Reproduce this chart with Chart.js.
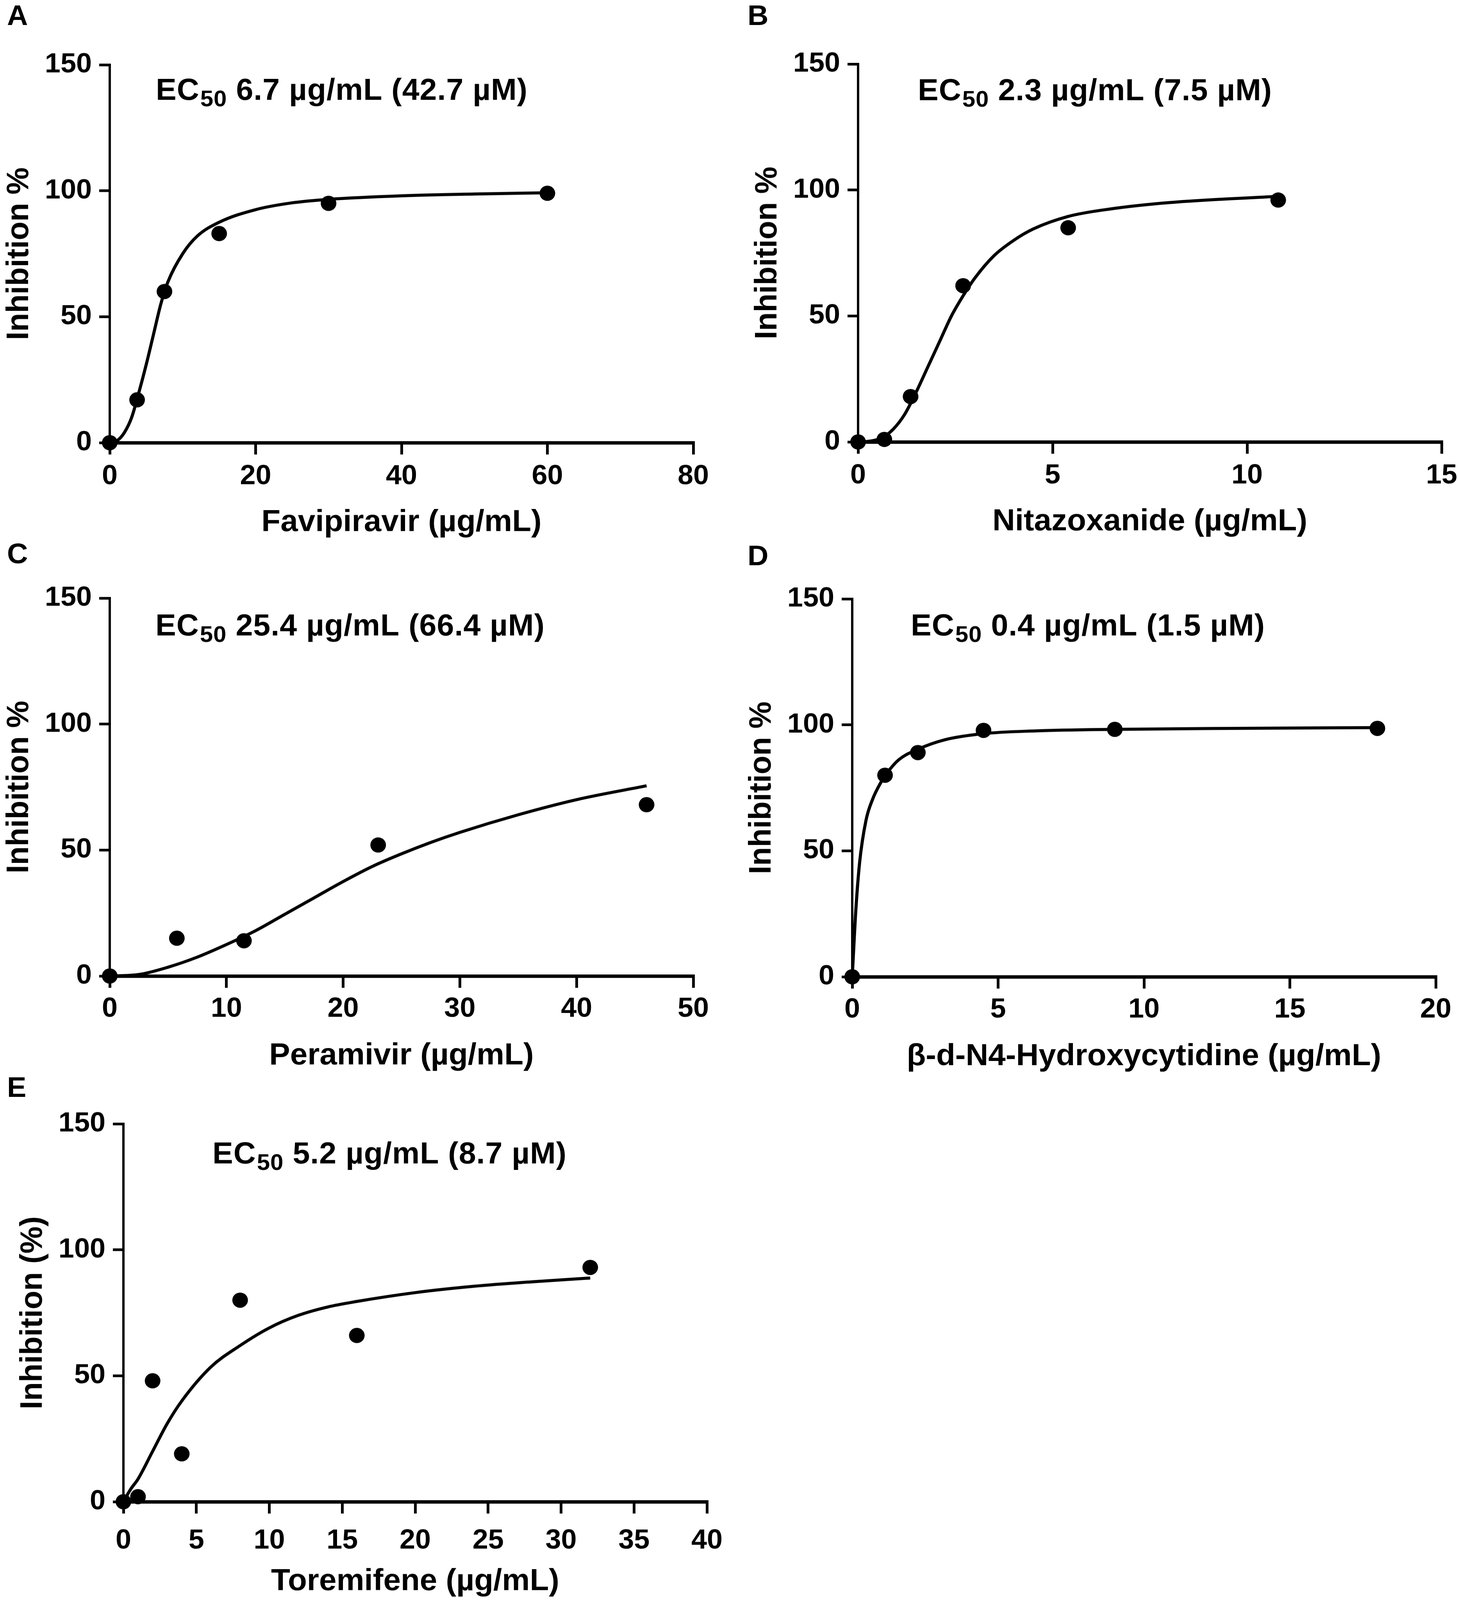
<!DOCTYPE html>
<html>
<head>
<meta charset="utf-8">
<script src="https://cdn.jsdelivr.net/npm/chart.js@4.4.1/dist/chart.umd.min.js"></script>
<style>
  html, body { margin: 0; padding: 0; background: #fff; overflow: hidden; }
  #page { position: absolute; left: 0; top: 0; width: 3733px; height: 4200px; transform-origin: 0 0; }
  canvas { position: absolute; }
  .tag { position: absolute; font: bold 74px 'Liberation Sans', Arial, sans-serif; line-height: 1; color: #000; }
</style>
</head>
<body>
<div id="page">
  <div class="tag" style="left:18px;top:4px">A</div>
  <div class="tag" style="left:1914px;top:4px">B</div>
  <div class="tag" style="left:18px;top:1417px">C</div>
  <div class="tag" style="left:1914px;top:1422px">D</div>
  <div class="tag" style="left:18px;top:2817px">E</div>

  <canvas id="cA"></canvas>
  <canvas id="cB"></canvas>
  <canvas id="cC"></canvas>
  <canvas id="cD"></canvas>
  <canvas id="cE"></canvas>
</div>

<script>
// measured points
const favX = [0, 3.75, 7.5, 15, 30, 60];
const favY = [0, 17, 60, 83, 95, 99];
const nitX = [0, 0.675, 1.35, 2.7, 5.4, 10.8];
const nitY = [0, 1, 18, 62, 85, 96];
const perX = [0, 5.75, 11.5, 23, 46];
const perY = [0, 15, 14, 52, 68];
const hydX = [0, 1.125, 2.25, 4.5, 9, 18];
const hydY = [0, 80, 89, 97.8, 98.2, 98.6];
const torX = [0, 1, 2, 4, 8, 16, 32];
const torY = [0, 2, 48, 19, 80, 66, 93];

// fitted curves
const favFitX = [0, 1, 2, 3, 4, 5, 6, 7, 8, 10, 12, 15, 20, 25, 30, 40, 50, 60];
const favFitY = [0, 0.8, 4, 10, 20, 31, 43, 55, 64, 75, 82, 87.5, 92.5, 95.2, 96.6, 98, 98.7, 99.2];
const nitFitX = [0, 0.3, 0.6, 0.9, 1.2, 1.5, 1.8, 2.1, 2.4, 2.7, 3, 3.5, 4, 4.5, 5.4, 6.5, 8, 10.8];
const nitFitY = [0, 0.3, 1.5, 5, 11, 20, 30, 40, 50, 58, 65, 74, 80, 84.5, 89.5, 92.5, 95, 97.5];
const perFitX = [0, 2.5, 5, 7.5, 10, 12.5, 15, 17.5, 20, 22.5, 25, 27.5, 30, 35, 40, 46];
const perFitY = [0, 0.6, 3.5, 7.5, 12.5, 18, 24.5, 31, 37.5, 43.5, 48.5, 53, 57, 64, 70, 75.5];
const hydFitX = [0, 0.05, 0.11, 0.25, 0.47, 0.7, 0.96, 1.2, 1.6, 2.25, 3.15, 4.5, 6.3, 9, 13, 18];
const hydFitY = [0, 11, 24, 45, 62, 70.5, 76.7, 81, 86.2, 90.3, 94, 96.5, 97.6, 98.2, 98.6, 98.9];
const torFitX = [0, 0.5, 1, 2, 3, 4, 6, 8, 10, 12, 14, 16, 20, 24, 28, 32];
const torFitY = [0, 5, 9, 20, 31, 40, 53.5, 62, 69, 74, 77.3, 79.5, 83, 85.5, 87.3, 88.8];

const yTicks = [0, 50, 100, 150];

const FONT = "'Liberation Sans', Arial, sans-serif";

// layout in page pixels
const Y_W = 281, PAD_TOP = 170, PAD_RIGHT = 92, X_H = 250;
const PLOT_W = 1494, PLOT_H = 992;

const panels = [
  { id: 'cA', left: 281, top: 170, xMax: 80, xStep: 20, px: favX, py: favY, fx: favFitX, fy: favFitY,
    xTitle: 'Favipiravir (µg/mL)', yTitle: 'Inhibition %', ec: ' 6.7 µg/mL (42.7 µM)', dx: 118, dy: 92, xPad: 22 },
  { id: 'cB', left: 2197, top: 168, xMax: 15, xStep: 5, px: nitX, py: nitY, fx: nitFitX, fy: nitFitY,
    xTitle: 'Nitazoxanide (µg/mL)', yTitle: 'Inhibition %', ec: ' 2.3 µg/mL (7.5 µM)', dx: 153, dy: 95, xPad: 22 },
  { id: 'cC', left: 281, top: 1570, xMax: 50, xStep: 10, px: perX, py: perY, fx: perFitX, fy: perFitY,
    xTitle: 'Peramivir (µg/mL)', yTitle: 'Inhibition %', ec: ' 25.4 µg/mL (66.4 µM)', dx: 117, dy: 98, xPad: 20 },
  { id: 'cD', left: 2182, top: 1572, xMax: 20, xStep: 5, px: hydX, py: hydY, fx: hydFitX, fy: hydFitY,
    xTitle: 'β-d-N4-Hydroxycytidine (µg/mL)', yTitle: 'Inhibition %', ec: ' 0.4 µg/mL (1.5 µM)', dx: 150, dy: 96, xPad: 20 },
  { id: 'cE', left: 316, top: 2950, xMax: 40, xStep: 5, px: torX, py: torY, fx: torFitX, fy: torFitY,
    xTitle: 'Toremifene (µg/mL)', yTitle: 'Inhibition (%)', ec: ' 5.2 µg/mL (8.7 µM)', dx: 228, dy: 104, xPad: 36 }
];

// "EC50 ..." note with a real subscript
const ecPlugin = {
  id: 'ecLabel',
  afterDraw(chart) {
    const o = chart.options.plugins.ecLabel;
    const a = chart.chartArea;
    const ctx = chart.ctx;
    ctx.save();
    ctx.fillStyle = '#000';
    ctx.textBaseline = 'alphabetic';
    ctx.textAlign = 'left';
    ctx.letterSpacing = '1px';
    let x = a.left + o.dx;
    const y = a.top + o.dy;
    ctx.font = 'bold 79px ' + FONT;
    ctx.fillText('EC', x, y);
    x += ctx.measureText('EC').width;
    ctx.font = 'bold 60px ' + FONT;
    ctx.fillText('50', x + 2, y + 17);
    x += ctx.measureText('50').width + 2;
    ctx.font = 'bold 79px ' + FONT;
    ctx.fillText(o.text, x, y);
    ctx.restore();
  }
};

panels.forEach(p => {
  const cv = document.getElementById(p.id);
  const w = Y_W + PLOT_W + PAD_RIGHT;
  const h = PAD_TOP + PLOT_H + X_H;
  cv.width = w;
  cv.height = h;
  cv.style.width = w + 'px';
  cv.style.height = h + 'px';
  cv.style.left = (p.left - Y_W) + 'px';
  cv.style.top = (p.top - PAD_TOP) + 'px';

  const points = p.px.map((x, i) => ({ x: x, y: p.py[i] }));
  const fit = p.fx.map((x, i) => ({ x: x, y: p.fy[i] }));

  new Chart(cv, {
    type: 'scatter',
    data: {
      datasets: [
        {
          data: points,
          pointRadius: 20,
          pointHoverRadius: 20,
          pointBackgroundColor: '#000',
          pointBorderWidth: 0,
          clip: false
        },
        {
          type: 'line',
          data: fit,
          borderColor: '#000',
          borderWidth: 8,
          pointRadius: 0,
          fill: false,
          cubicInterpolationMode: 'monotone',
          clip: false
        }
      ]
    },
    plugins: [ecPlugin],
    options: {
      responsive: false,
      devicePixelRatio: 1,
      animation: false,
      events: [],
      layout: { padding: { top: PAD_TOP, right: PAD_RIGHT, left: 0, bottom: 0 } },
      plugins: {
        legend: { display: false },
        tooltip: { enabled: false },
        ecLabel: { text: p.ec, dx: p.dx, dy: p.dy }
      },
      scales: {
        x: {
          type: 'linear',
          min: 0,
          max: p.xMax,
          ticks: {
            stepSize: p.xStep,
            autoSkip: false,
            maxRotation: 0,
            color: '#000',
            padding: p.xPad,
            font: { family: FONT, size: 72, weight: 'bold', lineHeight: 1 }
          },
          grid: { drawOnChartArea: false, drawTicks: true, tickLength: 31, color: '#000', lineWidth: 7, tickWidth: 7 },
          border: { display: true, color: '#000', width: 9 },
          title: {
            display: true,
            text: p.xTitle,
            color: '#000',
            font: { family: FONT, size: 80, weight: 'bold', lineHeight: 1 },
            padding: { top: 6, bottom: 0 }
          },
          afterFit(s) { s.height = X_H; }
        },
        y: {
          min: 0,
          max: 150,
          afterBuildTicks(s) { s.ticks = yTicks.map(v => ({ value: v })); },
          ticks: {
            color: '#000',
            padding: 19,
            font: { family: FONT, size: 72, weight: 'bold', lineHeight: 1 }
          },
          grid: { drawOnChartArea: false, drawTicks: true, tickLength: 27, color: '#000', lineWidth: 7, tickWidth: 7 },
          border: { display: true, color: '#000', width: 6 },
          title: {
            display: true,
            text: p.yTitle,
            color: '#000',
            font: { family: FONT, size: 80, weight: 'bold', lineHeight: 1 },
            padding: { top: 10, bottom: 0 }
          },
          afterFit(s) { s.width = Y_W; }
        }
      }
    }
  });
});

// the visible window is a bit shorter than 4200, so fit the sheet into it
const sx = Math.min(1, window.innerWidth / 3733);
const sy = Math.min(1, window.innerHeight / 4200);
document.getElementById('page').style.transform = 'scale(' + sx + ',' + sy + ')';
</script>
</body>
</html>
